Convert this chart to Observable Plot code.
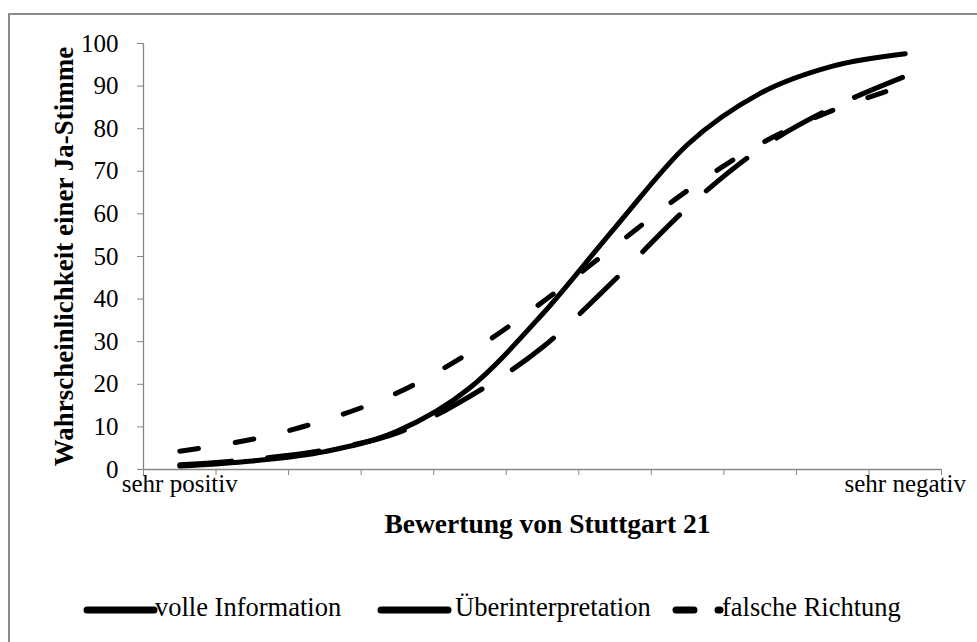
<!DOCTYPE html>
<html>
<head>
<meta charset="utf-8">
<script src="https://cdn.jsdelivr.net/npm/d3@7"></script>
<script src="https://cdn.jsdelivr.net/npm/@observablehq/plot@0.6"></script>
<style>
  html, body { margin: 0; padding: 0; background: #fff; }
  #wrap { position: relative; width: 977px; height: 642px; overflow: hidden; background: #fff; font-family: "Liberation Serif", "Times New Roman", serif; }
  #chart { position: absolute; left: 0; top: 0; }
  #frame { position: absolute; left: 8px; top: 13px; width: 1200px; height: 900px; border-top: 2px solid #8a8a8a; border-left: 2px solid #8a8a8a; pointer-events: none; box-sizing: border-box; }
  #legend { position: absolute; left: 0; top: 592px; width: 977px; height: 32px; font-size: 26.5px; line-height: 30px; color: #000; }
  .item { position: absolute; top: 0; white-space: nowrap; }
</style>
</head>
<body>
<div id="wrap">
  <div id="chart"></div>
  <div id="legend"></div>
  <div id="frame"></div>
</div>
<script>
// ---- data ----
const categories = ["sehr positiv", "", "", "", "", "", "", "", "", "", "sehr negativ"];
const volleInformation    = [0.8, 2.0, 4.2, 9.0, 19.2, 36.5, 56.8, 76.3, 88.3, 94.7, 97.6];
const ueberinterpretation = [1.1, 2.4, 4.6, 8.6, 17.2, 28.7, 44.6, 61.5, 75.3, 85.0, 92.3];
const falscheRichtung     = [4.3, 7.1, 11.6, 18.0, 27.5, 39.3, 52.5, 65.5, 76.4, 84.3, 90.2];
const seriesNames = ["volle Information", "Überinterpretation", "falsche Richtung"];
const yTicks = [0, 10, 20, 30, 40, 50, 60, 70, 80, 90, 100];
const xTitle = "Bewertung von Stuttgart 21";
const yTitle = "Wahrscheinlichkeit einer Ja-Stimme";

const gray = "#868686";
const dashes = [null, "52 36", "19 37"];

const toRows = (vals) => vals.map((v, i) => ({pos: i + 1, value: v}));
const seriesRows = [volleInformation, ueberinterpretation, falscheRichtung].map(toRows);

const boundaries = d3.range(categories.length + 1).map(i => i + 0.5);
const labelled = categories.map((c, i) => ({c, p: i + 1})).filter(d => d.c !== "");

const chart = Plot.plot({
  width: 977,
  height: 560,
  marginLeft: 143,
  marginRight: 36,
  marginTop: 43,
  marginBottom: 91,
  style: {fontFamily: "'Liberation Serif', 'Times New Roman', serif", fontSize: "25px", background: "transparent", color: "#000", overflow: "visible"},
  x: {type: "linear", domain: [0.5, categories.length + 0.5]},
  y: {domain: [0, 100]},
  marks: [
    Plot.axisY({ticks: yTicks, tickSize: 6, tickPadding: 19, stroke: gray, fill: "#000", label: null, fontSize: 25}),
    Plot.axisX({ticks: boundaries, tickSize: 6, tickFormat: () => "", stroke: gray, label: null}),
    Plot.axisX({ticks: labelled.map(d => d.p), tickSize: 0, tickPadding: 5, tickFormat: d => categories[d - 1], fill: "#000", label: null, fontSize: 25}),
    Plot.ruleY([0], {stroke: gray, strokeWidth: 1.3}),
    Plot.ruleX([0.5], {stroke: gray, strokeWidth: 1.3}),
    ...seriesRows.map((rows, k) => Plot.line(rows, {
      x: "pos", y: "value", stroke: "#000", strokeWidth: 5, curve: "cardinal",
      strokeDasharray: dashes[k] || undefined, strokeLinecap: "round"
    })),
    Plot.text([yTitle], {text: d => d, frameAnchor: "left", textAnchor: "middle", rotate: -90, dx: -79, lineAnchor: "middle", fontWeight: "bold", fontSize: 27}),
    Plot.text([xTitle], {text: d => d, frameAnchor: "bottom", textAnchor: "middle", dx: 5, dy: 63, lineAnchor: "bottom", fontWeight: "bold", fontSize: 27.5})
  ]
});
document.getElementById("chart").appendChild(chart);

// ---- legend ----
const legendLayout = [
  {sampleLeft: 82, sampleWidth: 80, x1: 5, x2: 72, dash: null, textLeft: 155},
  {sampleLeft: 376, sampleWidth: 80, x1: 5, x2: 72, dash: null, textLeft: 455},
  {sampleLeft: 670, sampleWidth: 60, x1: 6, x2: 50, dash: "18 24", textLeft: 722}
];
const legend = document.getElementById("legend");
seriesNames.forEach((name, k) => {
  const L = legendLayout[k];
  const sw = document.createElementNS("http://www.w3.org/2000/svg", "svg");
  sw.setAttribute("width", L.sampleWidth);
  sw.setAttribute("height", 30);
  sw.style.left = L.sampleLeft + "px";
  sw.style.position = "absolute";
  sw.style.top = "0px";
  const ln = document.createElementNS("http://www.w3.org/2000/svg", "line");
  ln.setAttribute("x1", L.x1); ln.setAttribute("x2", L.x2);
  ln.setAttribute("y1", 18); ln.setAttribute("y2", 18);
  ln.setAttribute("stroke", "#000"); ln.setAttribute("stroke-width", 7);
  ln.setAttribute("stroke-linecap", "round");
  if (L.dash) ln.setAttribute("stroke-dasharray", L.dash);
  sw.appendChild(ln);
  legend.appendChild(sw);
  const t = document.createElement("span");
  t.className = "item";
  t.style.left = L.textLeft + "px";
  t.textContent = name;
  legend.appendChild(t);
});
</script>
</body>
</html>
